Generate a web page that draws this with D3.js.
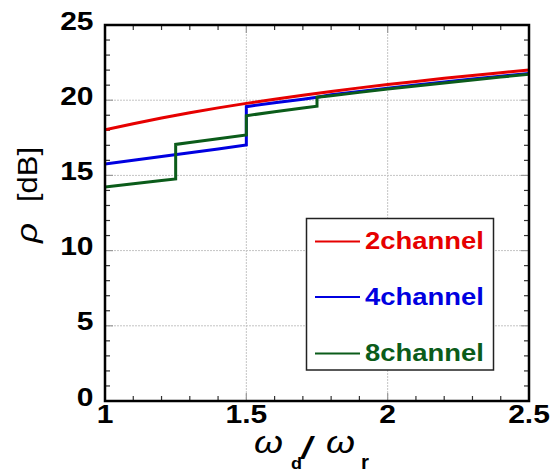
<!DOCTYPE html>
<html><head><meta charset="utf-8">
<script src="https://cdn.jsdelivr.net/npm/d3@7"></script>
<style>body{margin:0;background:#fff}svg{display:block}</style>
</head><body>
<svg id="c" width="559" height="472"></svg>
<script>
// ---- data ----
const redX  = [1.0,1.1,1.2,1.3,1.4,1.5,1.6,1.7,1.8,1.9,2.0,2.1,2.2,2.3,2.4,2.5];
const redY  = [18.03,18.44,18.82,19.17,19.49,19.79,20.07,20.33,20.58,20.82,21.04,21.25,21.46,21.65,21.83,22.01];
const blueX = [1.0,1.1,1.2,1.3,1.4,1.5,1.5,1.6,1.7,1.75,1.8,1.9,2.0,2.1,2.2,2.3,2.4,2.5];
const blueY = [15.75,16.0,16.25,16.5,16.76,17.02,19.57,19.83,20.07,20.2,20.36,20.58,20.8,21.01,21.21,21.41,21.6,21.78];
const greenX = [1.0,1.1,1.2,1.25,1.25,1.3,1.4,1.5,1.5,1.6,1.7,1.75,1.75,1.8,1.9,2.0,2.1,2.2,2.3,2.4,2.5];
const greenY = [14.22,14.44,14.66,14.76,17.06,17.19,17.44,17.69,18.97,19.23,19.48,19.6,20.2,20.3,20.52,20.74,20.95,21.15,21.35,21.54,21.72];
const seriesNames = ["2channel","4channel","8channel"];
const seriesColors = ["#e60000","#0000e0","#0b5c1a"];
const xTickVals = [1,1.5,2,2.5];
const xTickLabels = ["1","1.5","2","2.5"];
const yTickVals = [0,5,10,15,20,25];
const yTickLabels = ["0","5","10","15","20","25"];

// ---- layout ----
const L=105,T=25,R=529,B=401;
const svg=d3.select("#c");
const x=d3.scaleLinear().domain([1,2.5]).range([L,R]);
const y=d3.scaleLinear().domain([0,25]).range([B,T]);
const FONT="'Liberation Sans', Arial, sans-serif";

// grid
const g=svg.append("g");
g.selectAll(".gx").data([1.5,2]).join("line")
 .attr("x1",d=>x(d)).attr("x2",d=>x(d)).attr("y1",T).attr("y2",B)
 .attr("stroke","#c4c4c4").attr("stroke-width",1).attr("stroke-dasharray","2,1");
g.selectAll(".gy").data([5,10,15,20]).join("line")
 .attr("y1",d=>y(d)).attr("y2",d=>y(d)).attr("x1",L).attr("x2",R)
 .attr("stroke","#c4c4c4").attr("stroke-width",1).attr("stroke-dasharray","2,1");

// ticks (inward, all four sides)
const xMinor=d3.range(11,25).map(v=>v/10).filter(v=>Math.abs(v*2-Math.round(v*2))>1e-6);
const yMinor=d3.range(1,25).filter(v=>v%5!==0);
const tk=svg.append("g").attr("stroke-width",1.2);
function xt(vals,len,col){
  tk.selectAll(null).data(vals).join("line").attr("x1",d=>x(d)).attr("x2",d=>x(d))
    .attr("y1",B).attr("y2",B-len).attr("stroke",col);
  tk.selectAll(null).data(vals).join("line").attr("x1",d=>x(d)).attr("x2",d=>x(d))
    .attr("y1",T).attr("y2",T+len).attr("stroke",col);
}
function yt(vals,len,col){
  tk.selectAll(null).data(vals).join("line").attr("y1",d=>y(d)).attr("y2",d=>y(d))
    .attr("x1",L).attr("x2",L+len).attr("stroke",col);
  tk.selectAll(null).data(vals).join("line").attr("y1",d=>y(d)).attr("y2",d=>y(d))
    .attr("x1",R).attr("x2",R-len).attr("stroke",col);
}
xt(xMinor,5,"#333"); xt([1.5,2],8,"#999");
yt(yMinor,5,"#333"); yt([5,10,15,20],8,"#999");

// data lines
const clip=svg.append("clipPath").attr("id","pc").append("rect")
  .attr("x",L).attr("y",T).attr("width",R-L).attr("height",B-T);
const line=d3.line().x(d=>x(d[0])).y(d=>y(d[1]));
const dl=svg.append("g").attr("clip-path","url(#pc)");
const sets=[[blueX,blueY,1],[greenX,greenY,2],[redX,redY,0]];
sets.forEach(([xs,ys,ci])=>{
  dl.append("path").datum(xs.map((v,i)=>[v,ys[i]])).attr("d",line)
    .attr("fill","none").attr("stroke",seriesColors[ci]).attr("stroke-width",3)
    .attr("stroke-linejoin","miter");
});

// frame
svg.append("rect").attr("x",L).attr("y",T).attr("width",R-L).attr("height",B-T)
  .attr("fill","none").attr("stroke","#000").attr("stroke-width",2.5);

// tick labels (wide bold font -> horizontal scale)
const SX=1.2;
xTickVals.forEach((v,i)=>{
  svg.append("text").attr("transform",`translate(${x(v)},423) scale(${SX},1)`)
    .attr("text-anchor","middle").attr("font-family",FONT).attr("font-weight","bold")
    .attr("font-size",25).attr("fill","#000").text(xTickLabels[i]);
});
yTickVals.forEach((v,i)=>{
  svg.append("text").attr("transform",`translate(93.5,${y(v)+4.5}) scale(${SX},1)`)
    .attr("text-anchor","end").attr("font-family",FONT).attr("font-weight","bold")
    .attr("font-size",25).attr("fill","#000").text(yTickLabels[i]);
});

// y label
const yl=svg.append("g").attr("transform","translate(37,243) rotate(-90)");
yl.append("text").attr("x",0).attr("y",0).attr("font-family",FONT).attr("font-style","italic")
  .attr("font-size",29).attr("textLength",20).attr("lengthAdjust","spacingAndGlyphs").text("ρ");
yl.append("text").attr("x",41).attr("y",0).attr("font-family",FONT)
  .attr("font-size",27).attr("textLength",55).attr("lengthAdjust","spacingAndGlyphs").text("[dB]");

// x label
function tx(str,xx,yy,fs,len,italic,bold){
  svg.append("text").attr("x",xx).attr("y",yy).attr("font-family",FONT).attr("font-weight",bold?"bold":"normal")
    .attr("font-style",italic?"italic":"normal").attr("font-size",fs)
    .attr("textLength",len).attr("lengthAdjust","spacingAndGlyphs").text(str);
}
tx("ω",254,453,31,29,true,false);
tx("d",291,469,17,11,false,true);
tx("/",300,459,31,15,false,false);
tx("ω",326,453,31,29,true,false);
tx("r",361,469,21,8,false,true);

// legend
const lg=svg.append("g");
lg.append("rect").attr("x",306.5).attr("y",218.5).attr("width",187).attr("height",151.5)
  .attr("fill","#fff").attr("stroke","#222").attr("stroke-width",1.5);
const rowsY=[241.5,297,353.5];
seriesNames.forEach((n,i)=>{
  lg.append("line").attr("x1",315).attr("x2",360).attr("y1",rowsY[i]).attr("y2",rowsY[i])
    .attr("stroke",seriesColors[i]).attr("stroke-width",2);
  lg.append("text").attr("x",365).attr("y",rowsY[i]+7.5).attr("font-family",FONT)
    .attr("font-weight","bold").attr("font-size",23.5).attr("fill",seriesColors[i])
    .attr("textLength",119).attr("lengthAdjust","spacingAndGlyphs").text(n);
});
</script>
</body></html>
